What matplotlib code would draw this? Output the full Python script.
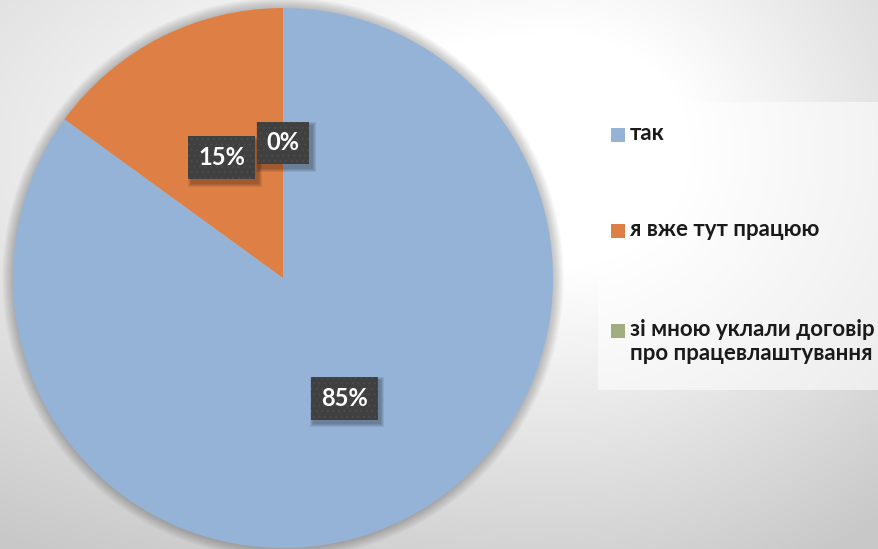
import numpy as np
import matplotlib
matplotlib.use("Agg")
import matplotlib.pyplot as plt
from matplotlib.patches import Rectangle, Circle
from matplotlib.transforms import IdentityTransform

# ---- data ----
categories = ["так", "я вже тут працюю", "зі мною уклали договір\nпро працевлаштування"]
values = [85, 15, 0]
colors = ["#95B3D7", "#DE8046", "#A3AE80"]

W, H = 879, 549
fig = plt.figure(figsize=(W / 100, H / 100), dpi=100)
plt.rcParams["hatch.linewidth"] = 0.6
FAM = ["Lato", "Open Sans", "DejaVu Sans"]

# ---- background gradient ----
bg = fig.add_axes([0, 0, 1, 1], zorder=-10)
yy, xx = np.mgrid[0:H, 0:W]
cx, cy = 560.0, 150.0
dx = xx - cx
dx = np.where(dx < 0, dx / 1000.0, dx / 520.0)
dy = (yy - cy) / 470.0
d = np.sqrt(dx ** 2 + dy ** 2)
t = np.clip((d - 0.25) / 0.75, 0, 1)
g = (255 - 55 * t) / 255.0
bg.imshow(np.dstack([g, g, g]), extent=[0, W, H, 0], aspect="auto")
bg.set_xlim(0, W)
bg.set_ylim(H, 0)
bg.axis("off")

# ---- legend box (behind) ----
fig.patches.append(Rectangle((598 / W, 1 - 390 / H), (W - 598) / W, (390 - 102) / H,
                             transform=fig.transFigure, facecolor="white", alpha=0.55,
                             edgecolor="none", zorder=-5))

# ---- pie ----
R = 270
cxp, cyp = 283, 278
ax = fig.add_axes([(cxp - R) / W, (H - cyp - R) / H, 2 * R / W, 2 * R / H])

# soft halo around pie
for i in range(10):
    ax.add_patch(Circle((0, 0), 1 + 0.004 * (i + 1), facecolor="black", alpha=0.022,
                        edgecolor="none", zorder=0, clip_on=False))

wedges, texts, autotexts = ax.pie(values, colors=colors, startangle=90, counterclock=False,
                                  autopct="%.0f%%", pctdistance=0.5, radius=1,
                                  wedgeprops=dict(linewidth=0, zorder=2),
                                  textprops=dict(color="white", fontsize=17, fontweight="bold",
                                                 family=FAM))
ax.set_xlim(-1, 1)
ax.set_ylim(-1, 1)
ax.set_aspect("equal")
ax.axis("off")

for at in autotexts:
    at.set_zorder(6)
    at.set_bbox(dict(boxstyle="square,pad=0.42", facecolor="#404040", edgecolor="#4E4E4E",
                     linewidth=0, hatch="..."))

# ---- legend (manual) ----
legend_y = [135, 231, 331]
text_x = 630
for lab, col, y in zip(categories, colors, legend_y):
    fig.patches.append(Rectangle((611 / W, 1 - (y + 7) / H), 14 / W, 14 / H,
                                 transform=fig.transFigure, facecolor=col,
                                 edgecolor="none", zorder=3))
    fig.text(text_x / W, 1 - (y - 12) / H, lab, ha="left", va="top",
             fontsize=16, fontweight="bold", color="#1a1a1a",
             family=FAM, linespacing=1.2, multialignment="left")

# ---- blurred drop shadows of the label boxes (display coords) ----
fig.canvas.draw()
renderer = fig.canvas.get_renderer()
for at in autotexts:
    bb = at.get_bbox_patch().get_window_extent(renderer)
    for grow in [7, 5, 3, 1]:
        ax.add_patch(Rectangle((bb.x0 + 3 - grow / 2, bb.y0 - 4 - grow / 2),
                               bb.width + grow, bb.height + grow,
                               transform=IdentityTransform(),
                               facecolor="black", alpha=0.08, edgecolor="none",
                               zorder=5, clip_on=False))

fig.savefig("out.png", dpi=100)
